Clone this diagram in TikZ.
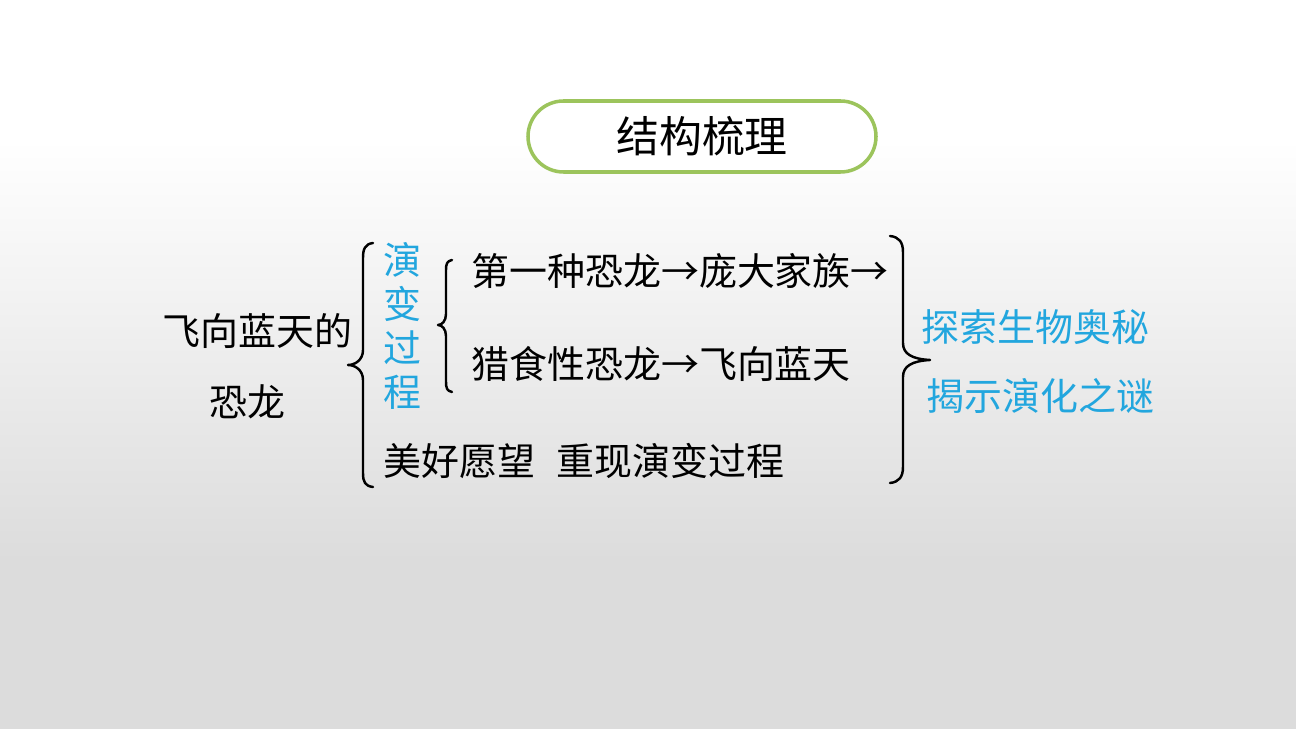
\documentclass[tikz,border=0pt]{standalone}
\usepackage{fontspec}
\setmainfont{Noto Sans CJK SC}
\definecolor{cyanblue}{HTML}{22A6DE}
\definecolor{boxgreen}{HTML}{9CC45C}
\definecolor{bggray}{HTML}{DCDCDC}
\begin{document}
\begin{tikzpicture}[x=0.02cm,y=-0.02cm,
  txt/.style={inner sep=0pt,anchor=base west,font=\fontsize{21.6}{26}\selectfont},
  bluetxt/.style={txt,text=cyanblue},
  brace/.style={draw=black,line width=1.4pt,line cap=round,line join=round}]
\useasboundingbox (0,0) rectangle (1296,729);
% background
\fill[white] (0,0) rectangle (1296,141);
\shade[top color=white,bottom color=bggray] (0,140) rectangle (1296,561);
\fill[bggray] (0,560) rectangle (1296,729);
% title
\draw[boxgreen,line width=2pt,fill=white,rounded corners=35.5*0.02cm] (528,101) rectangle (876,172);
\node[inner sep=0pt,anchor=base,font=\fontsize{24.4}{29}\selectfont] (title) at (702,153) {结构梳理};
% left text
\node[txt] (left1) at (162,346) {飞向蓝天的};
\node[txt,anchor=base] (left2) at (247,417) {恐龙};
% vertical blue
\node[bluetxt,anchor=base] (v1) at (402,275) {演};
\node[bluetxt,anchor=base] (v2) at (402,319) {变};
\node[bluetxt,anchor=base] (v3) at (402,363) {过};
\node[bluetxt,anchor=base] (v4) at (402,407) {程};
% rows
\node[txt] (row1) at (471,286) {第一种恐龙→庞大家族→};
\node[txt] (row2) at (471,379) {猎食性恐龙→飞向蓝天};
\node[txt] (row3a) at (383,476) {美好愿望};
\node[txt] (row3b) at (556,476) {重现演变过程};
% right blue
\node[bluetxt] (r1) at (921,342) {探索生物奥秘};
\node[bluetxt] (r2) at (926,411) {揭示演化之谜};
% big left brace
\draw[brace] (373,243) .. controls (365,244) and (363,249) .. (363,258)
  -- (363,350) .. controls (363,360) and (355,365) .. (348,365)
  .. controls (355,365) and (363,370) .. (363,380)
  -- (363,473) .. controls (363,482) and (365,486) .. (373,487);
% small left brace
\draw[brace] (452,260) .. controls (447,261) and (446,264) .. (446,270)
  -- (446,314) .. controls (446,321) and (442,325) .. (438,325)
  .. controls (442,325) and (446,329) .. (446,336)
  -- (446,382) .. controls (446,388) and (447,391) .. (452,392);
% right brace
\draw[brace] (890,236) .. controls (899,237) and (903,242) .. (903,252)
  -- (903,343) .. controls (903,354) and (912,359) .. (930,360)
  .. controls (912,361) and (903,366) .. (903,377)
  -- (903,467) .. controls (903,477) and (899,482) .. (890,483);
\end{tikzpicture}
\end{document}
